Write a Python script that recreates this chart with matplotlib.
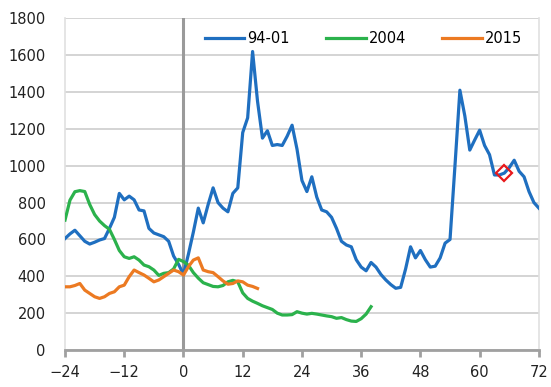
import numpy as np
import matplotlib
matplotlib.use("Agg")
import matplotlib.pyplot as plt

# months relative to the start of the cycle
months_9401 = np.arange(-24, 73)
vals_9401 = [605, 630, 650, 620, 590, 575, 585, 597, 605, 660, 720, 850, 815, 835, 815, 760,
             755, 660, 635, 625, 615, 590, 510, 465, 410, 520, 640, 770, 690, 790, 880, 800,
             770, 750, 850, 880, 1180, 1260, 1620, 1350, 1150, 1190, 1110, 1115, 1110, 1160, 1220, 1090,
             920, 860, 940, 830, 760, 750, 720, 660, 590, 570, 560, 490, 450, 430, 475, 450,
             410, 380, 355, 335, 340, 440, 560, 500, 540, 490, 450, 455, 500, 580, 600, 1000,
             1410, 1270, 1085, 1140, 1193, 1110, 1060, 950, 950, 960, 990, 1030, 970, 940, 860, 800,
             770]

months_2004 = np.arange(-24, 39)
vals_2004 = [705, 813, 859, 865, 860, 790, 735, 700, 675, 655, 600, 540, 506, 497, 506, 488,
             461, 452, 434, 405, 416, 420, 440, 492, 480, 460, 420, 390, 365, 355, 345, 343,
             350, 370, 378, 370, 310, 280, 265, 253, 240, 230, 220, 200, 190, 190, 192, 208,
             200, 195, 199, 195, 190, 185, 181, 172, 176, 165, 157, 155, 170, 195, 235]

months_2015 = np.arange(-24, 16)
vals_2015 = [343, 343, 350, 361, 325, 307, 289, 280, 289, 307, 316, 343, 352, 398, 434, 420,
             407, 389, 370, 380, 398, 416, 434, 425, 407, 452, 488, 500, 434, 425, 420, 398,
             375, 357, 361, 375, 370, 352, 345, 334]

marker_month = 65

fig = plt.figure(figsize=(5.51, 3.87), dpi=100)
ax = fig.add_axes([0.118, 0.0956, 0.86, 0.857])

ax.plot(months_9401, vals_9401, color="#1f6fc0", lw=2.3, label="94-01", zorder=3)
ax.plot(months_2004, vals_2004, color="#2bb24c", lw=2.3, label="2004", zorder=3)
ax.plot(months_2015, vals_2015, color="#ec7a22", lw=2.3, label="2015", zorder=3)

# red diamond on the current point
ax.plot(marker_month, vals_9401[list(months_9401).index(marker_month)], marker="D", ms=8,
        mfc="none", mec="#e8191c", mew=1.6, zorder=4)

ax.axvline(0, color="#9a9a9a", lw=2.2, zorder=2)

ax.set_xlim(-24, 72)
ax.set_ylim(0, 1800)
ax.set_xticks(np.arange(-24, 73, 12))
ax.set_yticks(np.arange(0, 1801, 200))
ax.yaxis.grid(True, color="#d4d4d4", lw=1.4)
ax.set_axisbelow(True)

ax.spines["top"].set_visible(False)
for s in ["left", "right"]:
    ax.spines[s].set_color("#e0e0e0")
    ax.spines[s].set_linewidth(1.2)
ax.spines["bottom"].set_color("#a0a0a0")
ax.spines["bottom"].set_linewidth(2)

ax.tick_params(axis="y", length=0, labelsize=10.5, pad=14, colors="#222222")
ax.tick_params(axis="x", length=5, width=2, color="#a0a0a0", labelsize=10.5, pad=6,
               labelcolor="#222222")

ax.legend(loc="upper center", bbox_to_anchor=(0.63, 1.0), ncol=3, frameon=False,
          fontsize=10.5, handlelength=2.7, handletextpad=0.2, columnspacing=2.5)

fig.savefig("out.png", dpi=100)
